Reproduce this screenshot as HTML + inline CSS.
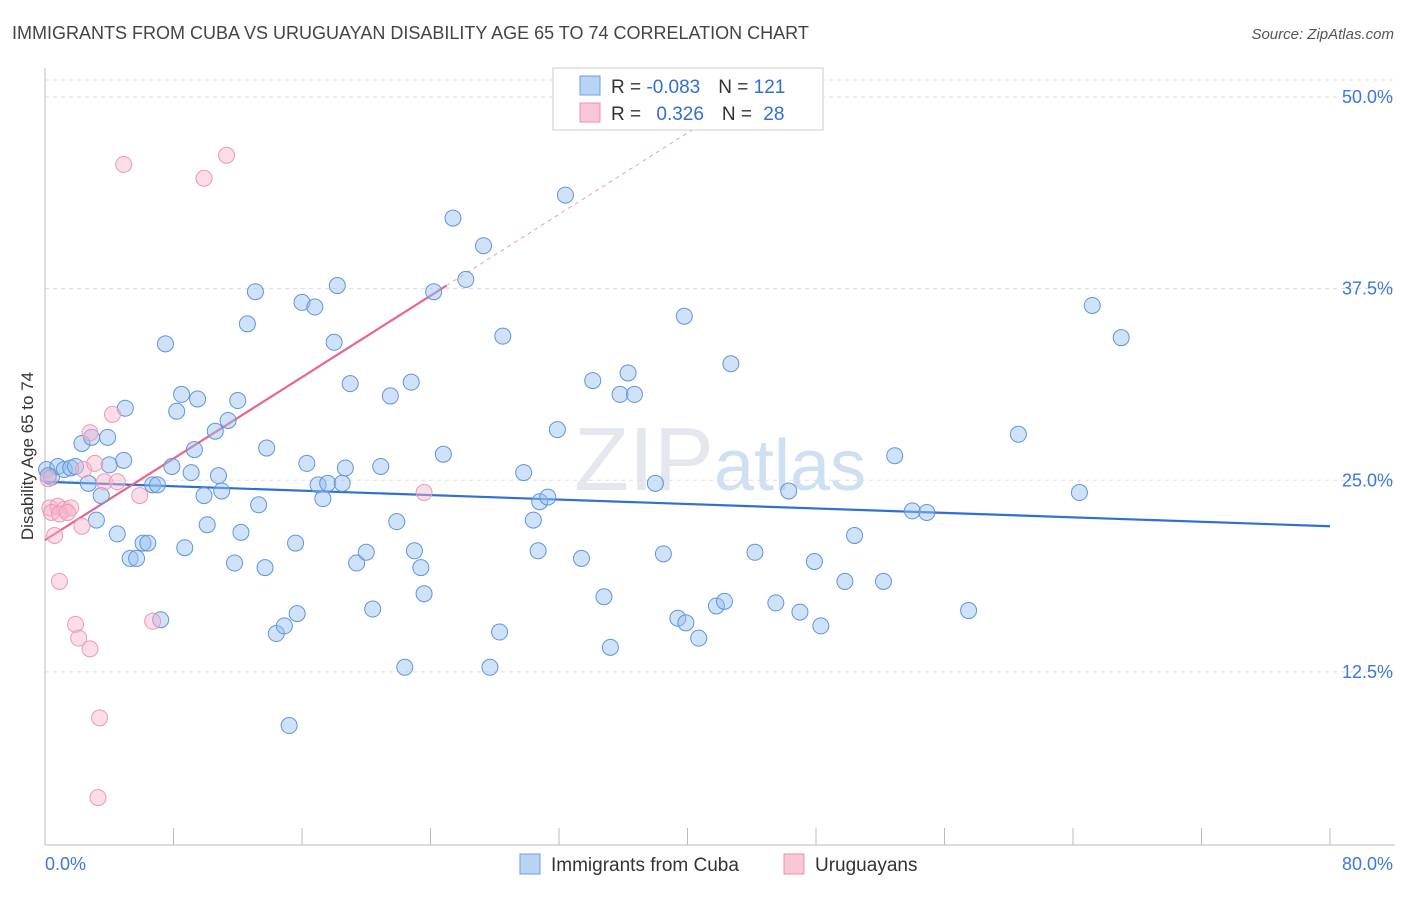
<!DOCTYPE html>
<html><head><meta charset="utf-8"><style>
body{margin:0;background:#fff;font-family:"Liberation Sans",sans-serif}
svg text{font-family:"Liberation Sans",sans-serif}
</style></head><body>
<svg id="chart" width="1406" height="892" xmlns="http://www.w3.org/2000/svg">
<text x="12" y="39" font-size="18" fill="#444">IMMIGRANTS FROM CUBA VS URUGUAYAN DISABILITY AGE 65 TO 74 CORRELATION CHART</text>
<text x="1394" y="39" font-size="15" fill="#555" text-anchor="end" font-style="italic">Source: ZipAtlas.com</text>
<text x="720" y="490" font-size="90" fill="#e4e8ee" text-anchor="middle" font-family="Liberation Serif">ZIP<tspan fill="#cfe0f3" font-family="Liberation Sans" font-size="72">atlas</tspan></text>
<text transform="translate(33,456) rotate(-90)" font-size="17" fill="#333" text-anchor="middle">Disability Age 65 to 74</text>
<g id="grid"></g><g id="axes"></g><g id="trends"></g><g id="pts"></g>
<g>
<rect x="553" y="68" width="270" height="62" fill="#fff" stroke="#ccc"/>
<rect x="580" y="76" width="20" height="19" fill="#b9d3f5" stroke="#6e9fe0"/>
<rect x="580" y="103" width="20" height="19" fill="#f9c6d6" stroke="#ec93ae"/>
<text x="611" y="93" font-size="19" fill="#333">R = <tspan fill="#2f6fd6">-0.083</tspan><tspan dx="18">N = </tspan><tspan fill="#2f6fd6">121</tspan></text>
<text x="611" y="120" font-size="19" fill="#333">R = <tspan dx="10" fill="#2f6fd6">0.326</tspan><tspan dx="18">N = </tspan><tspan dx="6" fill="#2f6fd6">28</tspan></text>
</g>
<g>
<rect x="520" y="854" width="20" height="20" fill="#b9d3f5" stroke="#6e9fe0"/>
<text x="551" y="871" font-size="19" fill="#333">Immigrants from Cuba</text>
<rect x="784" y="854" width="20" height="20" fill="#f9c6d6" stroke="#ec93ae"/>
<text x="815" y="871" font-size="19" fill="#333">Uruguayans</text>
</g>
</svg>
<script>
const blueX=[0.1,0.4,0.8,1.2,1.6,1.9,2.3,2.7,2.9,3.2,3.5,3.9,4.0,4.5,4.9,5.0,5.3,5.7,6.1,6.4,6.7,7.0,7.2,7.5,7.9,8.2,8.5,8.7,9.1,9.3,9.5,9.9,10.1,10.6,10.8,11.0,11.4,11.8,12.0,12.2,12.6,13.1,13.3,13.7,13.8,14.4,14.9,15.2,15.6,15.7,16.0,16.3,16.8,17.0,17.3,17.6,18.0,18.2,18.5,18.7,19.0,19.4,20.0,20.4,20.9,21.5,21.9,22.4,22.8,23.0,23.4,23.6,24.2,24.8,25.4,26.2,27.3,27.7,28.3,28.5,29.8,30.4,30.7,30.8,31.3,31.9,32.4,33.4,34.1,34.8,35.2,35.8,36.3,36.7,38.0,38.5,39.4,39.9,39.8,40.7,41.8,42.3,42.7,44.2,45.5,46.3,47.0,47.9,48.3,49.8,50.4,52.2,52.9,54.0,54.9,57.5,60.6,64.4,65.2,67.0,0.2];
const blueY=[25.7,25.2,25.9,25.7,25.8,25.9,27.4,24.8,27.8,22.4,24.0,27.8,26.0,21.5,26.3,29.7,19.9,19.9,20.9,20.9,24.7,24.7,15.9,33.9,25.9,29.5,30.6,20.6,25.5,27.0,30.3,24.0,22.1,28.2,25.3,24.3,28.9,19.6,30.2,21.6,35.2,37.3,23.4,19.3,27.1,15.0,15.5,9.0,20.9,16.3,36.6,26.1,36.3,24.7,23.8,24.8,34.0,37.7,24.8,25.8,31.3,19.6,20.3,16.6,25.9,30.5,22.3,12.8,31.4,20.4,19.3,17.6,37.3,26.7,42.1,38.1,40.3,12.8,15.1,34.4,25.5,22.4,20.4,23.6,23.9,28.3,43.6,19.9,31.5,17.4,14.1,30.6,32.0,30.6,24.8,20.2,16.0,15.7,35.7,14.7,16.8,17.1,32.6,20.3,17.0,24.3,16.4,19.7,15.5,18.4,21.4,18.4,26.6,23.0,22.9,16.5,28.0,24.2,36.4,34.3,25.3];
const pinkX=[0.2,0.3,0.6,0.8,0.9,1.2,1.6,1.9,2.1,2.3,2.4,2.8,2.8,3.1,3.4,3.3,3.7,4.2,4.5,4.9,5.9,6.7,9.9,11.3,23.6,0.4,0.9,1.4];
const pinkY=[25.1,23.2,21.4,23.3,18.4,23.1,23.2,15.6,14.7,22.0,25.7,14.0,28.1,26.1,9.5,4.3,24.9,29.3,24.9,45.6,24.0,15.8,44.7,46.2,24.2,22.9,22.8,22.9];
const blueTrend=[24.9,22.0];
const pinkTrend=[21.1,37.7];
const yTicks=[50,37.5,25,12.5];
const xTickLabels=["0.0%","80.0%"];
const NS="http://www.w3.org/2000/svg";
const X=v=>45+v*16.0625, Y=v=>97+(50-v)*15.33;
function mk(t,a,p){const e=document.createElementNS(NS,t);for(const k in a)e.setAttribute(k,a[k]);p.appendChild(e);return e;}
const gridG=document.getElementById('grid'),axesG=document.getElementById('axes'),trG=document.getElementById('trends'),ptsG=document.getElementById('pts');
const topLine=mk('line',{x1:45,x2:1395,y1:80,y2:80,stroke:'#ddd','stroke-dasharray':'4,4'},gridG);


yTicks.forEach(v=>{
 const l=mk('line',{x1:45,x2:1395,y1:Y(v),y2:Y(v),stroke:'#ddd','stroke-dasharray':'4,4'},gridG);
 
 
 const t=mk('text',{x:1393,y:Y(v)+6,'font-size':18,fill:'#3b78d8','text-anchor':'end'},axesG);
 t.textContent=v.toFixed(1)+'%';
 
 
});
const ya=mk('line',{x1:45,x2:45,y1:68,y2:845,stroke:'#bbb'},axesG);


const xa=mk('line',{x1:45,x2:1395,y1:845,y2:845,stroke:'#bbb'},axesG);


for(let i=0;i<=10;i++){
 const tk=mk('line',{x1:X(i*8),x2:X(i*8),y1:828,y2:845,stroke:'#bbb'},axesG);
 
 
}
[[0,'start',45],[1,'end',1393]].forEach(([i,a,x])=>{
 const t=mk('text',{x:x,y:870,'font-size':18,fill:'#3b78d8','text-anchor':a},axesG);
 t.textContent=xTickLabels[i];
 
 
});
const bl=mk('line',{x1:X(0),y1:Y(blueTrend[0]),x2:X(80),y2:Y(blueTrend[1]),stroke:'#2f6fd6','stroke-width':2.2},trG);


const ps=(pinkTrend[1]-pinkTrend[0])/25;
const pl=mk('line',{x1:X(0),y1:Y(pinkTrend[0]),x2:X(25),y2:Y(pinkTrend[1]),stroke:'#e8658f','stroke-width':2.2},trG);


const pd=mk('line',{x1:X(25),y1:Y(pinkTrend[1]),x2:X(42),y2:Y(pinkTrend[0]+ps*42),stroke:'#eaa0b8','stroke-width':1,'stroke-dasharray':'4,4'},trG);


blueX.forEach((x,i)=>{
 const c=mk('circle',{cx:X(x),cy:Y(blueY[i]),r:8,fill:'rgba(150,190,240,0.45)',stroke:'#5f95dc','stroke-width':1},ptsG);
 
 
});
pinkX.forEach((x,i)=>{
 const c=mk('circle',{cx:X(x),cy:Y(pinkY[i]),r:8,fill:'rgba(247,180,202,0.45)',stroke:'#ec9ab4','stroke-width':1},ptsG);
 
 
});
</script>
</body></html>
